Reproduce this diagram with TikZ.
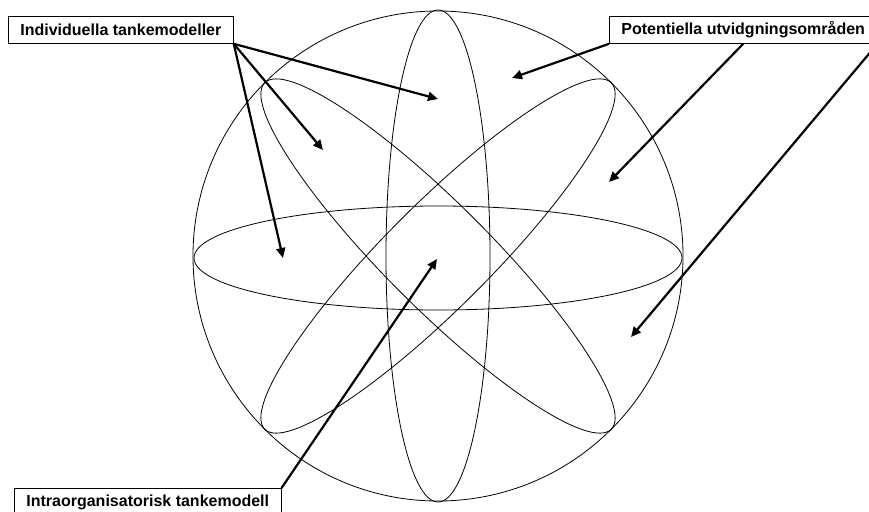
\documentclass[tikz,border=0pt]{standalone}
\usepackage{fontspec}
\setmainfont{Liberation Sans}
\usetikzlibrary{arrows.meta}

\begin{document}
\begin{tikzpicture}[
    x=1pt, y=-1pt,
    orbit/.style={draw=black,line width=0.8pt},
    tag/.style={draw,fill=white,line width=0.8pt,anchor=north west,
                inner xsep=12pt,inner ysep=0pt,minimum height=27pt,
                font=\fontsize{16}{19}\selectfont\bfseries},
    pointer/.style={-{Triangle[length=10pt,width=9pt]},line width=2.2pt},
  ]
  \useasboundingbox (0,0) rectangle (869,511);

  % sphere with its four orbits
  \coordinate (c) at (438,256);
  \draw[orbit] (c) circle[radius=245];
  \draw[orbit] (438,258) ellipse[x radius=244,y radius=52];
  \draw[orbit] (c) ellipse[x radius=52,y radius=246];
  \draw[orbit,rotate around={45:(c)}] (c) ellipse[x radius=245,y radius=52];
  \draw[orbit,rotate around={-45:(c)}] (c) ellipse[x radius=245,y radius=52];

  % labels
  \node[tag] (ind) at (8,16) {Individuella tankemodeller};
  \node[tag] (pot) at (609,16) {Potentiella utvidgningsområden};
  \node[tag] (intra) at (14,488) {Intraorganisatorisk tankemodell};

  % arrow targets inside the sphere
  \coordinate (i1) at (438,99);
  \coordinate (i2) at (323,150);
  \coordinate (i3) at (283,258);
  \coordinate (p1) at (512,78);
  \coordinate (p2) at (609,182);
  \coordinate (p3) at (631,337);
  \coordinate (t1) at (437,259);

  % pointers
  \foreach \t in {i1,i2,i3}
    \draw[pointer] (ind.south east) -- (\t);
  \draw[pointer] (pot.south west) -- (p1);
  \draw[pointer] (pot.south) -- (p2);
  \draw[pointer] (pot.south east) -- (p3);
  \draw[pointer] (intra.north east) -- (t1);

\end{tikzpicture}
\end{document}
